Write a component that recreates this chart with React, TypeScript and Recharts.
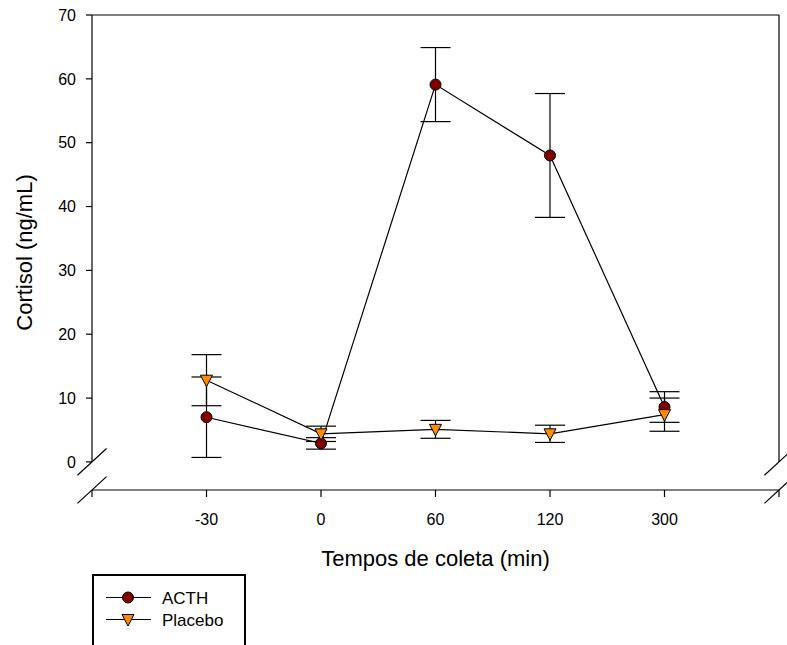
import React from 'react';
import { ComposedChart, Line, XAxis, YAxis, ErrorBar, ReferenceLine, Label, Legend } from 'recharts';

const categories = ['-30', '0', '60', '120', '300'];
const acthMean = [7.0, 2.9, 59.1, 48.0, 8.6];
const acthSem = [6.3, 0.9, 5.8, 9.7, 2.4];
const placeboMean = [12.8, 4.4, 5.1, 4.4, 7.4];
const placeboSem = [4.0, 1.2, 1.4, 1.35, 2.6];
const yTicks = [0, 10, 20, 30, 40, 50, 60, 70];
const seriesNames = { acth: 'ACTH', placebo: 'Placebo' };

const data = categories.map((c, i) => ({
  idx: i,
  label: c,
  acth: acthMean[i],
  acthErr: acthSem[i],
  placebo: placeboMean[i],
  placeboErr: placeboSem[i],
}));

const X_MIN = -1;
const X_MAX = categories.length;
const Y_MIN = -4.4;
const Y_MAX = 70;
const BX = 0.127;
const BY = 2.1;
const xTicks = [X_MIN, ...categories.map((_, i) => i), X_MAX];

const FONT = '"Liberation Sans", Arial, Helvetica, sans-serif';
const ACTH_FILL = '#800000';
const PLACEBO_FILL = '#ff8c00';

const circleDot = (props: any) => {
  const { cx, cy, index } = props;
  if (cx == null || cy == null) return <g key={`c-${index}`} />;
  return <circle key={`c-${index}`} cx={cx} cy={cy} r={5.5} fill={ACTH_FILL} stroke="#000" strokeWidth={1} />;
};

const triPoints = (cx: number, cy: number) =>
  `${cx - 6},${cy - 5} ${cx + 6},${cy - 5} ${cx},${cy + 6.5}`;

const triangleDot = (props: any) => {
  const { cx, cy, index } = props;
  if (cx == null || cy == null) return <g key={`t-${index}`} />;
  return <polygon key={`t-${index}`} points={triPoints(cx, cy)} fill={PLACEBO_FILL} stroke="#000" strokeWidth={1} />;
};

const LegendBox = (props: any) => {
  const payload = (props && props.payload && props.payload.length)
    ? props.payload
    : [{ dataKey: 'acth', value: seriesNames.acth }, { dataKey: 'placebo', value: seriesNames.placebo }];
  return (
    <div
      style={{
        boxSizing: 'border-box',
        width: 154,
        height: 90,
        border: '2.5px solid #000',
        background: '#fff',
        fontFamily: FONT,
      }}
    >
      <svg width={150} height={86} style={{ display: 'block' }}>
        {payload.map((p: any, i: number) => {
          const y = 21.5 + i * 22;
          const isActh = p.dataKey === 'acth';
          return (
            <g key={`leg-${i}`}>
              <line x1={12} x2={57} y1={y} y2={y} stroke="#000" strokeWidth={1.2} />
              {isActh ? (
                <circle cx={34} cy={y} r={5.5} fill={ACTH_FILL} stroke="#000" strokeWidth={1} />
              ) : (
                <polygon points={triPoints(34, y)} fill={PLACEBO_FILL} stroke="#000" strokeWidth={1} />
              )}
              <text x={68} y={y} dy="0.36em" fontSize={17} fill="#000" fontFamily={FONT}>
                {p.value}
              </text>
            </g>
          );
        })}
      </svg>
    </div>
  );
};

const seg = (x1: number, y1: number, x2: number, y2: number) => [
  { x: x1, y: y1 },
  { x: x2, y: y2 },
];

const breakSegs = [
  seg(X_MIN - BX, 0 - BY, X_MIN + BX, 0 + BY),
  seg(X_MIN - BX, Y_MIN - BY, X_MIN + BX, Y_MIN + BY),
  seg(X_MAX - BX, 0 - BY, X_MAX + BX, 0 + BY),
  seg(X_MAX - BX, Y_MIN - BY, X_MAX + BX, Y_MIN + BY),
];

export default function App() {
  return (
    <div style={{ position: 'absolute', left: 0, top: 0, width: 787, height: 645, background: '#fff' }}>
      <ComposedChart
        width={787}
        height={645}
        data={data}
        margin={{ top: 15, right: 8, left: 22, bottom: 125 }}
        style={{ fontFamily: FONT }}
      >
        <XAxis
          type="number"
          dataKey="idx"
          domain={[X_MIN, X_MAX]}
          ticks={xTicks}
          interval={0}
          allowDecimals={false}
          tickFormatter={(v: number) => (categories[v] !== undefined ? categories[v] : '')}
          tickSize={7}
          tickMargin={17}
          height={30}
          stroke="#000"
          axisLine={{ stroke: '#000', strokeWidth: 1.2 }}
          tickLine={{ stroke: '#000', strokeWidth: 1.2 }}
          tick={{ fill: '#000', fontSize: 16, fontFamily: FONT }}
        >
          <Label
            value="Tempos de coleta (min)"
            position="bottom"
            offset={30}
            style={{ fontSize: 22, fill: '#000', fontFamily: FONT }}
          />
        </XAxis>
        <YAxis
          type="number"
          domain={[Y_MIN, Y_MAX]}
          ticks={yTicks}
          interval={0}
          width={70}
          axisLine={false}
          tickSize={6}
          tickMargin={10}
          tickLine={{ stroke: '#000', strokeWidth: 1.2 }}
          tick={{ fill: '#000', fontSize: 16, fontFamily: FONT }}
        >
          <Label
            value="Cortisol (ng/mL)"
            angle={-90}
            position="insideLeft"
            offset={2}
            style={{ fontSize: 22, fill: '#000', fontFamily: FONT, textAnchor: 'middle' }}
          />
        </YAxis>
        <ReferenceLine segment={seg(X_MIN, 0, X_MIN, Y_MAX)} stroke="#000" strokeWidth={1.2} ifOverflow="visible" />
        <ReferenceLine segment={seg(X_MIN, Y_MAX, X_MAX, Y_MAX)} stroke="#000" strokeWidth={1.2} ifOverflow="visible" />
        <ReferenceLine segment={seg(X_MAX, 0, X_MAX, Y_MAX)} stroke="#000" strokeWidth={1.2} ifOverflow="visible" />
        {breakSegs.map((s, i) => (
          <ReferenceLine key={`brk-${i}`} segment={s} stroke="#000" strokeWidth={1.2} ifOverflow="visible" />
        ))}
        <Line
          dataKey="acth"
          name={seriesNames.acth}
          stroke="#000"
          strokeWidth={1.2}
          dot={circleDot}
          activeDot={false}
          isAnimationActive={false}
        >
          <ErrorBar dataKey="acthErr" direction="y" width={15} stroke="#000" strokeWidth={1.2} />
        </Line>
        <Line
          dataKey="placebo"
          name={seriesNames.placebo}
          stroke="#000"
          strokeWidth={1.2}
          dot={triangleDot}
          activeDot={false}
          isAnimationActive={false}
        >
          <ErrorBar dataKey="placeboErr" direction="y" width={15} stroke="#000" strokeWidth={1.2} />
        </Line>
        <Legend
          layout="vertical"
          align="center"
          verticalAlign="middle"
          content={<LegendBox />}
          wrapperStyle={{ left: 92, top: 574, width: 154, height: 90 }}
        />
      </ComposedChart>
    </div>
  );
}
